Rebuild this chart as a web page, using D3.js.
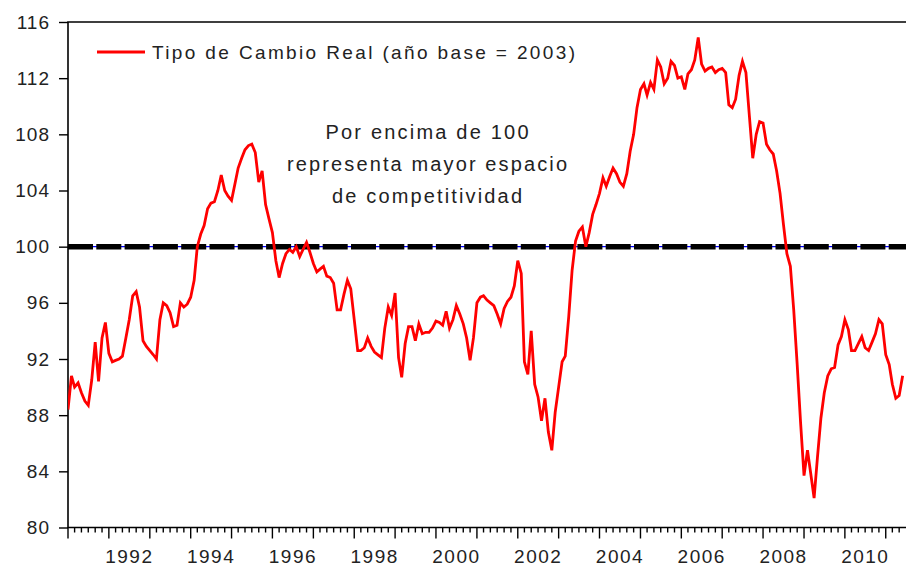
<!DOCTYPE html>
<html>
<head>
<meta charset="utf-8">
<script src="https://cdn.jsdelivr.net/npm/d3@7"></script>
<style>
  html, body { margin: 0; padding: 0; background: #fff; }
  svg { display: block; font-family: "Liberation Sans", Arial, sans-serif; }
</style>
</head>
<body>
<svg id="chart" width="906" height="565"></svg>
<script>
// ── Data: real exchange rate index, monthly, base year 2003 = 100 ────────────
const startMonth = '1991-01';
const rer = [
  88.4, 90.8, 90.0, 90.3, 89.6, 89.0, 88.7, 90.5, 93.2, 90.4, 93.5, 94.6,          // 1991
  92.4, 91.8, 91.9, 92.0, 92.2, 93.5, 94.8, 96.5, 96.8, 95.7, 93.3, 92.9,          // 1992
  92.6, 92.3, 92.0, 94.8, 96.0, 95.8, 95.3, 94.3, 94.4, 96.0, 95.7, 95.9,          // 1993
  96.4, 97.6, 100.0, 100.9, 101.5, 102.7, 103.1, 103.2, 104.0, 105.1, 104.0, 103.6, // 1994
  103.3, 104.5, 105.6, 106.3, 106.9, 107.2, 107.3, 106.7, 104.6, 105.4, 103.0, 102.0, // 1995
  101.0, 99.0, 97.8, 98.8, 99.5, 99.8, 99.6, 100.0, 99.3, 99.8, 100.3, 99.6,       // 1996
  98.8, 98.2, 98.4, 98.6, 97.9, 97.8, 97.4, 95.5, 95.5, 96.6, 97.6, 97.0,          // 1997
  94.8, 92.6, 92.6, 92.8, 93.5, 92.9, 92.5, 92.3, 92.1, 94.2, 95.7, 95.1,          // 1998
  96.7, 92.1, 90.7, 93.1, 94.3, 94.3, 93.3, 94.5, 93.8, 93.9, 93.9, 94.2,          // 1999
  94.7, 94.6, 94.4, 95.4, 94.2, 94.8, 95.8, 95.2, 94.5, 93.5, 91.9, 93.5,          // 2000
  96.0, 96.4, 96.5, 96.2, 96.0, 95.8, 95.2, 94.5, 95.6, 96.1, 96.4, 97.2,          // 2001
  99.0, 98.1, 91.8, 90.9, 94.0, 90.2, 89.3, 87.6, 89.2, 86.8, 85.5, 88.2,          // 2002
  90.0, 91.8, 92.2, 95.0, 98.3, 100.4, 101.1, 101.4, 100.0, 101.0, 102.3, 103.0,   // 2003
  103.8, 104.9, 104.3, 105.0, 105.6, 105.2, 104.6, 104.3, 105.2, 106.8, 108.0, 109.9, // 2004
  111.2, 111.6, 110.8, 111.7, 111.2, 113.3, 112.8, 111.6, 112.0, 113.2, 112.9, 112.0, // 2005
  112.1, 111.2, 112.3, 112.6, 113.3, 114.9, 113.0, 112.5, 112.7, 112.8, 112.4, 112.6, // 2006
  112.7, 112.4, 110.1, 109.9, 110.5, 112.2, 113.2, 112.4, 109.3, 106.3, 108.0, 108.9, // 2007
  108.8, 107.3, 106.9, 106.6, 105.4, 103.8, 101.6, 99.5, 98.6, 95.5, 91.6, 87.5,   // 2008
  83.7, 85.5, 83.9, 82.1, 85.0, 87.8, 89.6, 90.8, 91.3, 91.4, 93.0, 93.6,          // 2009
  94.8, 94.1, 92.6, 92.6, 93.1, 93.6, 92.8, 92.6, 93.2, 93.8, 94.8, 94.5,          // 2010
  92.3, 91.6, 90.2, 89.2, 89.4, 90.8                                                // 2011
];
const yTicks      = [80, 84, 88, 92, 96, 100, 104, 108, 112, 116];
const labelYears  = [1992, 1994, 1996, 1998, 2000, 2002, 2004, 2006, 2008, 2010];
const baseline    = 100;
const legendLabel = 'Tipo de Cambio Real (año base =  2003)';
const noteLines   = ['Por encima de 100', 'representa mayor espacio', 'de competitividad'];

// ── Layout ───────────────────────────────────────────────────────────────────
const L = 68, R = 906, T = 22, B = 527.5;
const FONT = 19;

const svg = d3.select('#chart');
const parse = d3.timeParse('%Y-%m');
const t0 = parse(startMonth);
const series = rer.map((v, i) => ({ date: d3.timeMonth.offset(t0, i), value: v }));

const x = d3.scaleTime()
  .domain([t0, d3.timeMonth.offset(t0, 246)])
  .range([L, R]);
const y = d3.scaleLinear().domain([80, 116]).range([B, T]);

// clip for the plot area
svg.append('clipPath').attr('id', 'plot-clip')
  .append('rect').attr('x', L).attr('y', T).attr('width', R - L + 10).attr('height', B - T);

// frame (top + left + bottom; right edge falls outside the picture)
svg.append('path')
  .attr('d', `M${R + 5},${T}H${L}V${B}H${R + 5}`)
  .attr('fill', 'none').attr('stroke', '#000').attr('stroke-width', 1.6);

// ── Y axis ───────────────────────────────────────────────────────────────────
const yAxis = svg.append('g')
  .attr('transform', `translate(${L},0)`)
  .call(d3.axisLeft(y).tickValues(yTicks).tickSize(9).tickPadding(9))
  .call(g => g.select('.domain').remove());
yAxis.selectAll('line').attr('stroke', '#000').attr('stroke-width', 1.4);
yAxis.selectAll('text')
  .attr('font-size', FONT).attr('fill', '#222')
  .attr('font-family', '"Liberation Sans", Arial, sans-serif')
  .attr('letter-spacing', 1);

// ── X axis: bimonthly minor ticks, yearly major ticks, labels mid-year ──────
const xAxis = svg.append('g').attr('transform', `translate(0,${B})`);
const minor = d3.timeMonth.every(2).range(t0, x.domain()[1]);
xAxis.selectAll('line.tick')
  .data(minor)
  .join('line')
    .attr('class', 'tick')
    .attr('x1', d => x(d)).attr('x2', d => x(d))
    .attr('y1', 0)
    .attr('y2', d => d.getMonth() === 0 ? 11 : 5)
    .attr('stroke', '#000').attr('stroke-width', 1.4);
xAxis.selectAll('text')
  .data(labelYears)
  .join('text')
    .attr('x', d => (x(new Date(d, 0, 1)) + x(new Date(d + 1, 0, 1))) / 2)
    .attr('y', 35)
    .attr('text-anchor', 'middle')
    .attr('font-size', FONT).attr('fill', '#222')
    .attr('letter-spacing', 1.5)
    .text(d => d);

// ── Reference line at 100 ────────────────────────────────────────────────────
svg.append('line')
  .attr('x1', L).attr('x2', R).attr('y1', y(baseline)).attr('y2', y(baseline))
  .attr('stroke', '#0000ff').attr('stroke-width', 1.2);
svg.append('line')
  .attr('x1', L).attr('x2', R).attr('y1', y(baseline)).attr('y2', y(baseline))
  .attr('stroke', '#000').attr('stroke-width', 5.5)
  .attr('stroke-dasharray', '25,3.3');

// ── Series line ──────────────────────────────────────────────────────────────
const line = d3.line().x(d => x(d.date)).y(d => y(d.value));
svg.append('path')
  .datum(series)
  .attr('clip-path', 'url(#plot-clip)')
  .attr('d', line)
  .attr('fill', 'none')
  .attr('stroke', '#ff0000')
  .attr('stroke-width', 2.8)
  .attr('stroke-linejoin', 'miter');

// ── Legend ───────────────────────────────────────────────────────────────────
svg.append('line')
  .attr('x1', 97).attr('x2', 145).attr('y1', 52).attr('y2', 52)
  .attr('stroke', '#ff0000').attr('stroke-width', 2.8);
svg.append('text')
  .attr('x', 152).attr('y', 59)
  .attr('font-size', FONT).attr('fill', '#222')
  .attr('textLength', 423).attr('lengthAdjust', 'spacing')
  .text(legendLabel);

// ── Annotation ───────────────────────────────────────────────────────────────
const noteWidths = [203, 280, 190];
svg.append('g').selectAll('text')
  .data(noteLines)
  .join('text')
    .attr('x', 427)
    .attr('y', (d, i) => 139 + i * 32)
    .attr('text-anchor', 'middle')
    .attr('font-size', 20).attr('fill', '#222')
    .attr('textLength', (d, i) => noteWidths[i]).attr('lengthAdjust', 'spacing')
    .text(d => d);
</script>
</body>
</html>
